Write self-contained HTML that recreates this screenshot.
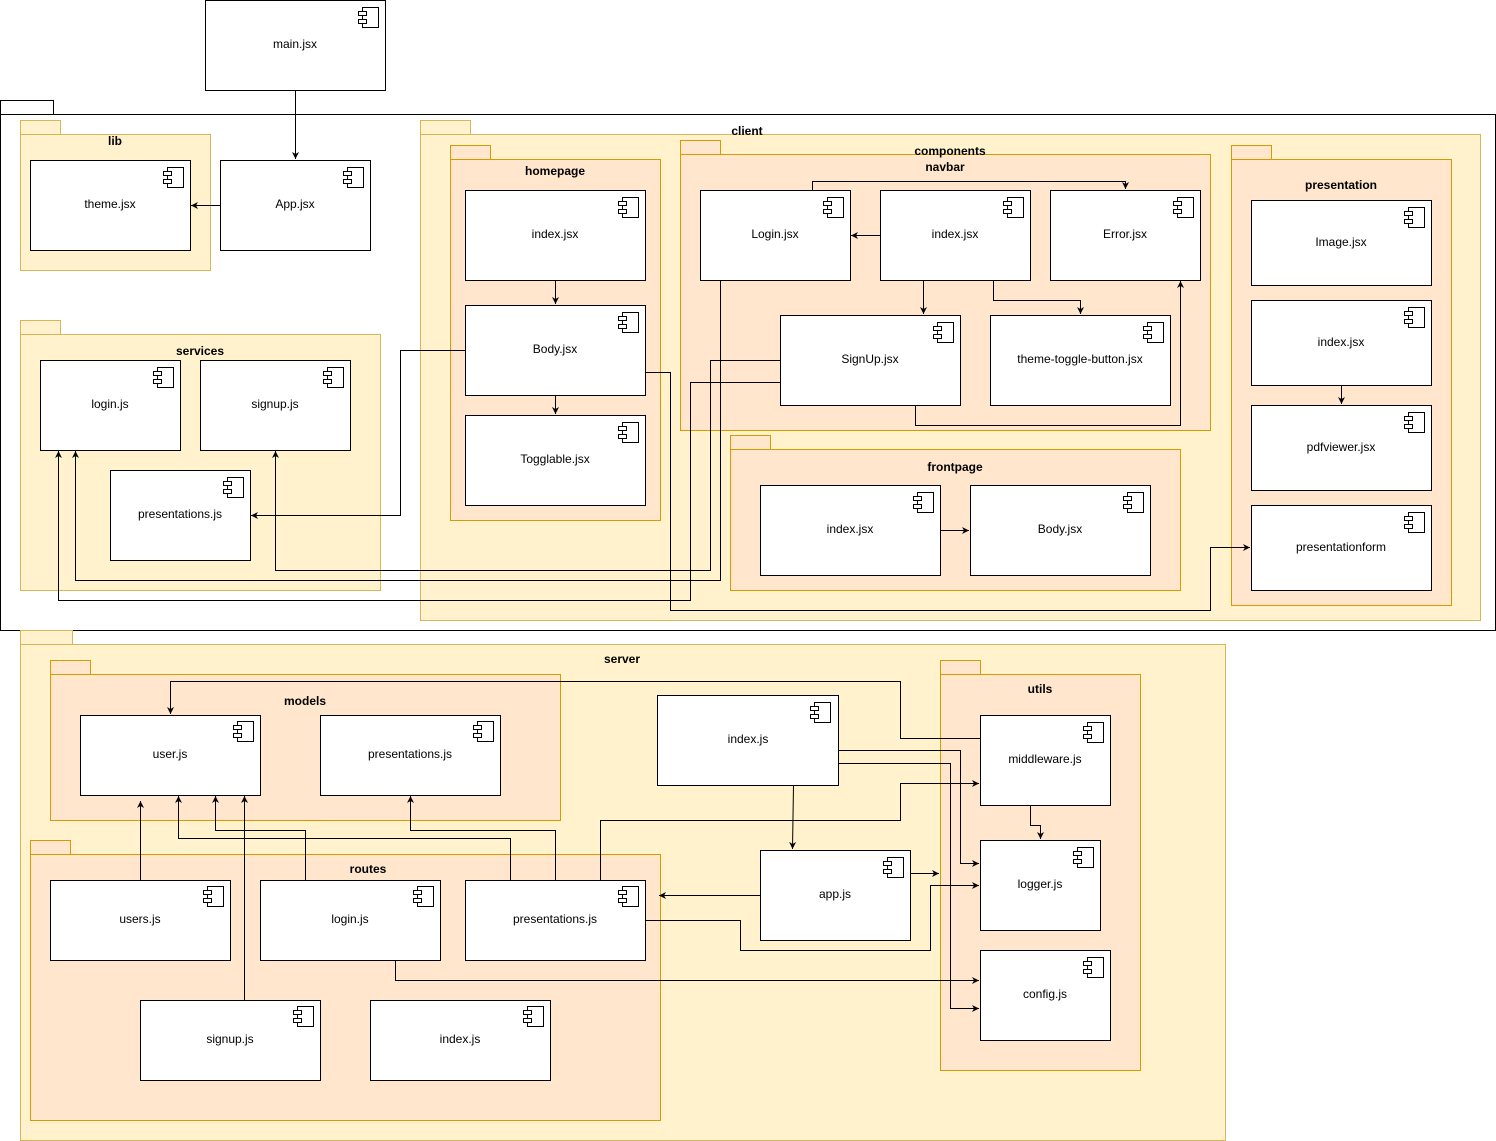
<!DOCTYPE html>
<html><head><meta charset="utf-8"><style>body{margin:0;background:#fff}svg{display:block}text{font-family:"Liberation Sans",Arial,sans-serif;font-size:12px;fill:#000}.b{font-weight:bold}</style></head><body>
<svg width="1496" height="1141" viewBox="0 0 1496 1141" xmlns="http://www.w3.org/2000/svg">
<defs>
<g id="ic"><rect x="4" y="0" width="16" height="20" fill="#fff" stroke="#000"/><rect x="0" y="4" width="8" height="4" fill="#fff" stroke="#000"/><rect x="0" y="12" width="8" height="4" fill="#fff" stroke="#000"/></g>
<marker id="a" markerWidth="8" markerHeight="8" refX="7" refY="4" orient="auto" markerUnits="userSpaceOnUse"><path d="M0,0.5 L7,4 L0,7.5 L2,4 Z" fill="#000"/></marker>
</defs>
<g stroke-width="1">
<!-- outer white package -->
<rect x="0.5" y="100.5" width="53" height="14" fill="#fff" stroke="#000"/>
<rect x="0.5" y="114.5" width="1495" height="516" fill="#fff" stroke="#000"/>
<!-- lib -->
<rect x="20.5" y="120.5" width="40" height="14" fill="#fff2cc" stroke="#d6b656"/>
<rect x="20.5" y="134.5" width="190" height="136" fill="#fff2cc" stroke="#d6b656"/>
<!-- services -->
<rect x="20.5" y="320.5" width="40" height="14" fill="#fff2cc" stroke="#d6b656"/>
<rect x="20.5" y="334.5" width="360" height="256" fill="#fff2cc" stroke="#d6b656"/>
<!-- client -->
<rect x="420.5" y="120.5" width="50" height="14" fill="#fff2cc" stroke="#d6b656"/>
<rect x="420.5" y="134.5" width="1060" height="486" fill="#fff2cc" stroke="#d6b656"/>
<rect x="450.5" y="145.5" width="40" height="14" fill="#ffe6cc" stroke="#d79b00"/>
<rect x="450.5" y="159.5" width="210" height="361" fill="#ffe6cc" stroke="#d79b00"/>
<rect x="680.5" y="140.5" width="40" height="14" fill="#ffe6cc" stroke="#d79b00"/>
<rect x="680.5" y="154.5" width="530" height="276" fill="#ffe6cc" stroke="#d79b00"/>
<rect x="730.5" y="435.5" width="40" height="14" fill="#ffe6cc" stroke="#d79b00"/>
<rect x="730.5" y="449.5" width="450" height="141" fill="#ffe6cc" stroke="#d79b00"/>
<rect x="1231.5" y="145.5" width="40" height="14" fill="#ffe6cc" stroke="#d79b00"/>
<rect x="1231.5" y="159.5" width="220" height="446" fill="#ffe6cc" stroke="#d79b00"/>
<!-- server -->
<rect x="20.5" y="630.5" width="52" height="14" fill="#fff2cc" stroke="#d6b656"/>
<rect x="20.5" y="644.5" width="1205" height="496" fill="#fff2cc" stroke="#d6b656"/>
<rect x="50.5" y="660.5" width="40" height="14" fill="#ffe6cc" stroke="#d79b00"/>
<rect x="50.5" y="674.5" width="510" height="146" fill="#ffe6cc" stroke="#d79b00"/>
<rect x="30.5" y="840.5" width="40" height="14" fill="#ffe6cc" stroke="#d79b00"/>
<rect x="30.5" y="854.5" width="630" height="266" fill="#ffe6cc" stroke="#d79b00"/>
<rect x="940.5" y="660.5" width="40" height="14" fill="#ffe6cc" stroke="#d79b00"/>
<rect x="940.5" y="674.5" width="200" height="396" fill="#ffe6cc" stroke="#d79b00"/>
</g>
<g fill="#fff" stroke="#000">
<rect x="205.5" y="0.5" width="180" height="90"/>
<rect x="30.5" y="160.5" width="160" height="90"/>
<rect x="220.5" y="160.5" width="150" height="90"/>
<rect x="40.5" y="360.5" width="140" height="90"/>
<rect x="200.5" y="360.5" width="150" height="90"/>
<rect x="110.5" y="470.5" width="140" height="90"/>
<rect x="465.5" y="190.5" width="180" height="90"/>
<rect x="465.5" y="305.5" width="180" height="90"/>
<rect x="465.5" y="415.5" width="180" height="90"/>
<rect x="700.5" y="190.5" width="150" height="90"/>
<rect x="880.5" y="190.5" width="150" height="90"/>
<rect x="1050.5" y="190.5" width="150" height="90"/>
<rect x="780.5" y="315.5" width="180" height="90"/>
<rect x="990.5" y="315.5" width="180" height="90"/>
<rect x="760.5" y="485.5" width="180" height="90"/>
<rect x="970.5" y="485.5" width="180" height="90"/>
<rect x="1251.5" y="200.5" width="180" height="85"/>
<rect x="1251.5" y="300.5" width="180" height="85"/>
<rect x="1251.5" y="405.5" width="180" height="85"/>
<rect x="1251.5" y="505.5" width="180" height="85"/>
<rect x="80.5" y="715.5" width="180" height="80"/>
<rect x="320.5" y="715.5" width="180" height="80"/>
<rect x="50.5" y="880.5" width="180" height="80"/>
<rect x="260.5" y="880.5" width="180" height="80"/>
<rect x="465.5" y="880.5" width="180" height="80"/>
<rect x="140.5" y="1000.5" width="180" height="80"/>
<rect x="370.5" y="1000.5" width="180" height="80"/>
<rect x="980.5" y="715.5" width="130" height="90"/>
<rect x="980.5" y="840.5" width="120" height="90"/>
<rect x="980.5" y="950.5" width="130" height="90"/>
<rect x="657.5" y="695.5" width="181" height="90"/>
<rect x="760.5" y="850.5" width="150" height="90"/>
</g>
<g>
<use href="#ic" x="358.5" y="7.5"/><use href="#ic" x="163.5" y="167.5"/><use href="#ic" x="343.5" y="167.5"/>
<use href="#ic" x="153.5" y="367.5"/><use href="#ic" x="323.5" y="367.5"/><use href="#ic" x="223.5" y="477.5"/>
<use href="#ic" x="618.5" y="197.5"/><use href="#ic" x="618.5" y="312.5"/><use href="#ic" x="618.5" y="422.5"/>
<use href="#ic" x="823.5" y="197.5"/><use href="#ic" x="1003.5" y="197.5"/><use href="#ic" x="1173.5" y="197.5"/>
<use href="#ic" x="933.5" y="322.5"/><use href="#ic" x="1143.5" y="322.5"/>
<use href="#ic" x="913.5" y="492.5"/><use href="#ic" x="1123.5" y="492.5"/>
<use href="#ic" x="1404.5" y="207.5"/><use href="#ic" x="1404.5" y="307.5"/><use href="#ic" x="1404.5" y="412.5"/><use href="#ic" x="1404.5" y="512.5"/>
<use href="#ic" x="233.5" y="721.5"/><use href="#ic" x="473.5" y="721.5"/>
<use href="#ic" x="203.5" y="886.5"/><use href="#ic" x="413.5" y="886.5"/><use href="#ic" x="618.5" y="886.5"/>
<use href="#ic" x="293.5" y="1006.5"/><use href="#ic" x="523.5" y="1006.5"/>
<use href="#ic" x="1083.5" y="722.5"/><use href="#ic" x="1073.5" y="847.5"/><use href="#ic" x="1083.5" y="957.5"/>
<use href="#ic" x="810.5" y="702.5"/><use href="#ic" x="883.5" y="857.5"/>
</g>
<g fill="none" stroke="#000" marker-end="url(#a)">
<path d="M295.5,90 V159"/>
<path d="M220,205.5 H191"/>
<path d="M555.5,280 V304"/>
<path d="M555.5,395 V414"/>
<path d="M465,350.5 H400.5 V515.5 H251"/>
<path d="M645,372.5 H670.5 V610.5 H1210.5 V547.5 H1250"/>
<path d="M880,235.5 H851"/>
<path d="M812.5,190 V181.5 H1125.5 V189"/>
<path d="M923.5,280 V314"/>
<path d="M993.5,280 V300.5 H1080.5 V314"/>
<path d="M915.5,405 V425.5 H1180.5 V281"/>
<path d="M720.5,280 V580.5 H75.5 V451"/>
<path d="M780,360.5 H710.5 V570.5 H275.5 V451"/>
<path d="M780,382.5 H690.5 V600.5 H58.5 V451"/>
<path d="M940,530.5 H969"/>
<path d="M1341.5,385 V404"/>
<path d="M980,738.5 H900.5 V681.5 H170.5 V714"/>
<path d="M838,750.5 H960.5 V863.5 H979"/>
<path d="M838,763.5 H950.5 V1008.5 H979"/>
<path d="M793.5,785 L792.5,849"/>
<path d="M600.5,880 V820.5 H900.5 V783.5 H979"/>
<path d="M1030.5,805 V825.5 H1040.5 V839"/>
<path d="M910,873.5 H939"/>
<path d="M760,895.5 H659"/>
<path d="M645,920.5 H740.5 V950.5 H930.5 V885.5 H979"/>
<path d="M395.5,960 V980.5 H979"/>
<path d="M140.5,880 V801"/>
<path d="M305.5,880 V830.5 H215.5 V796"/>
<path d="M510.5,880 V838.5 H178.5 V796"/>
<path d="M555.5,880 V830.5 H410.5 V796"/>
<path d="M244.5,1000 V796"/>
</g>
<g text-anchor="middle">
<text class="b" x="115" y="145">lib</text>
<text class="b" x="200" y="355">services</text>
<text class="b" x="747" y="135">client</text>
<text class="b" x="555" y="175">homepage</text>
<text class="b" x="950" y="155">components</text>
<text class="b" x="945" y="171">navbar</text>
<text class="b" x="955" y="471">frontpage</text>
<text class="b" x="1341" y="189">presentation</text>
<text class="b" x="622" y="663">server</text>
<text class="b" x="305" y="705">models</text>
<text class="b" x="368" y="873">routes</text>
<text class="b" x="1040" y="693">utils</text>
<text x="295" y="48">main.jsx</text>
<text x="110" y="208">theme.jsx</text>
<text x="295" y="208">App.jsx</text>
<text x="110" y="408">login.js</text>
<text x="275" y="408">signup.js</text>
<text x="180" y="518">presentations.js</text>
<text x="555" y="238">index.jsx</text>
<text x="555" y="353">Body.jsx</text>
<text x="555" y="463">Togglable.jsx</text>
<text x="775" y="238">Login.jsx</text>
<text x="955" y="238">index.jsx</text>
<text x="1125" y="238">Error.jsx</text>
<text x="870" y="363">SignUp.jsx</text>
<text x="1080" y="363">theme-toggle-button.jsx</text>
<text x="850" y="533">index.jsx</text>
<text x="1060" y="533">Body.jsx</text>
<text x="1341" y="246">Image.jsx</text>
<text x="1341" y="346">index.jsx</text>
<text x="1341" y="451">pdfviewer.jsx</text>
<text x="1341" y="551">presentationform</text>
<text x="170" y="758">user.js</text>
<text x="410" y="758">presentations.js</text>
<text x="140" y="923">users.js</text>
<text x="350" y="923">login.js</text>
<text x="555" y="923">presentations.js</text>
<text x="230" y="1043">signup.js</text>
<text x="460" y="1043">index.js</text>
<text x="1045" y="763">middleware.js</text>
<text x="1040" y="888">logger.js</text>
<text x="1045" y="998">config.js</text>
<text x="748" y="743">index.js</text>
<text x="835" y="898">app.js</text>
</g>
</svg>
</body></html>
